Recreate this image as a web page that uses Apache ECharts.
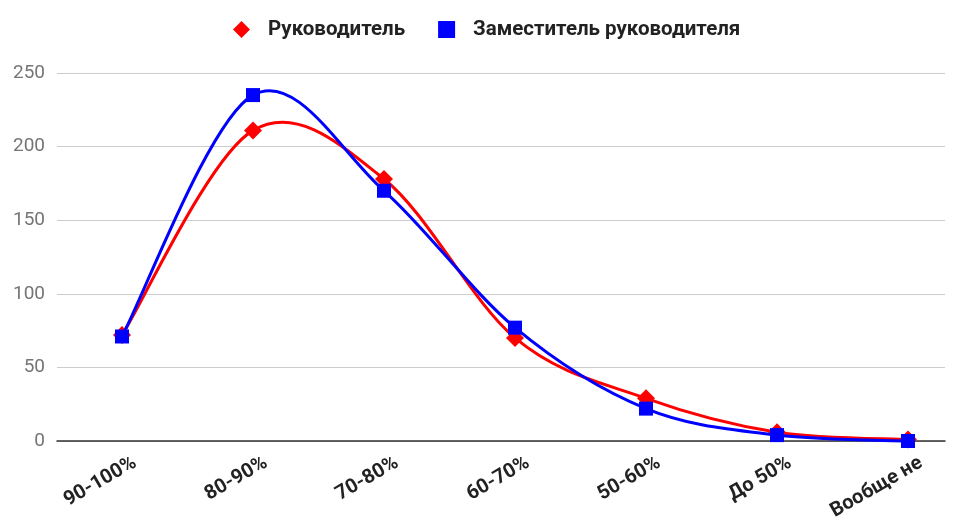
<!DOCTYPE html>
<html><head><meta charset="utf-8">
<script src="https://cdn.jsdelivr.net/npm/echarts@6/dist/echarts.min.js"></script>
<style>html,body{margin:0;padding:0;background:#fff}#c{width:960px;height:523px}</style>
</head><body><div id="c"></div>
<script>
const categories = ['90-100%', '80-90%', '70-80%', '60-70%', '50-60%', 'До 50%', 'Вообще не'];
const seriesNames = ['Руководитель', 'Заместитель руководителя'];
const headValues = [72, 211, 178, 70, 29, 6, 1];
const deputyValues = [71, 235, 170, 77, 22, 4, 0];
const yTicks = [0, 50, 100, 150, 200, 250];

const RED = '#ff0000', BLUE = '#0000ff';
const chart = echarts.init(document.getElementById('c'));
const font = 'Roboto, sans-serif';

// Catmull-Rom style smooth curve drawn through the chart's own coordinate system
function curveRenderer(values, color) {
  return function (params, api) {
    const P = values.map((v, i) => api.coord([i, v]));
    const n = P.length;
    const at = (i) => P[Math.max(0, Math.min(n - 1, i))];
    const children = [];
    for (let i = 0; i < n - 1; i++) {
      const p0 = at(i - 1), p1 = at(i), p2 = at(i + 1), p3 = at(i + 2);
      children.push({
        type: 'bezierCurve',
        shape: {
          x1: p1[0], y1: p1[1], x2: p2[0], y2: p2[1],
          cpx1: p1[0] + (p2[0] - p0[0]) / 6, cpy1: p1[1] + (p2[1] - p0[1]) / 6,
          cpx2: p2[0] - (p3[0] - p1[0]) / 6, cpy2: p2[1] - (p3[1] - p1[1]) / 6
        },
        style: { stroke: color, lineWidth: 3, fill: null }
      });
    }
    return { type: 'group', children: children };
  };
}

chart.setOption({
  animation: false,
  legend: {
    top: 14, left: 228, itemGap: 33, itemWidth: 17, itemHeight: 17,
    textStyle: { fontFamily: font, fontSize: 20.5, fontWeight: 'bold', color: '#222', padding: [0, 0, 0, 13] },
    data: [
      { name: seriesNames[0], icon: 'diamond' },
      { name: seriesNames[1], icon: 'rect' }
    ]
  },
  grid: [
    { left: 57, right: 15, top: 73, bottom: 82 },
    { left: 122, right: 52, top: 73, bottom: 82 },
    { left: 135, right: 39, top: 73, bottom: 82 }
  ],
  xAxis: [
    { gridIndex: 0, type: 'value', min: 0, max: 1,
      axisLine: { show: true, onZero: false, lineStyle: { color: '#333', width: 1.5 } },
      axisTick: { show: false }, axisLabel: { show: false }, splitLine: { show: false } },
    { gridIndex: 1, type: 'category', data: categories, boundaryGap: false,
      axisLine: { show: false }, axisTick: { show: false }, splitLine: { show: false },
      axisLabel: { show: false } },
    { gridIndex: 2, type: 'category', data: categories, boundaryGap: false,
      axisLine: { show: false }, axisTick: { show: false }, splitLine: { show: false },
      axisLabel: { rotate: 30, margin: 33, interval: 0, fontFamily: font, fontSize: 20,
        fontWeight: 'bold', color: '#222' } }
  ],
  yAxis: [
    { gridIndex: 0, type: 'value', min: yTicks[0], max: yTicks[yTicks.length - 1], interval: 50,
      axisLine: { show: false }, axisTick: { show: false },
      axisLabel: { margin: 12, fontFamily: font, fontSize: 19, color: '#757575' },
      splitLine: { lineStyle: { color: '#cccccc', width: 1 } } },
    { gridIndex: 1, type: 'value', min: yTicks[0], max: yTicks[yTicks.length - 1], interval: 50,
      show: false, splitLine: { show: false } },
    { gridIndex: 2, type: 'value', min: yTicks[0], max: yTicks[yTicks.length - 1], interval: 50,
      show: false, splitLine: { show: false } }
  ],
  series: [
    { name: 'curve-head', type: 'custom', xAxisIndex: 1, yAxisIndex: 1, data: [0],
      renderItem: curveRenderer(headValues, RED), z: 2, silent: true },
    { name: seriesNames[0], type: 'line', xAxisIndex: 1, yAxisIndex: 1, data: headValues,
      symbol: 'diamond', symbolSize: 18, showSymbol: true,
      itemStyle: { color: RED }, lineStyle: { color: RED, width: 0, opacity: 0 }, z: 3 },
    { name: 'curve-deputy', type: 'custom', xAxisIndex: 1, yAxisIndex: 1, data: [0],
      renderItem: curveRenderer(deputyValues, BLUE), z: 4, silent: true },
    { name: seriesNames[1], type: 'line', xAxisIndex: 1, yAxisIndex: 1, data: deputyValues,
      symbol: 'rect', symbolSize: 14, showSymbol: true,
      itemStyle: { color: BLUE }, lineStyle: { color: BLUE, width: 0, opacity: 0 }, z: 5 }
  ]
});
</script></body></html>
